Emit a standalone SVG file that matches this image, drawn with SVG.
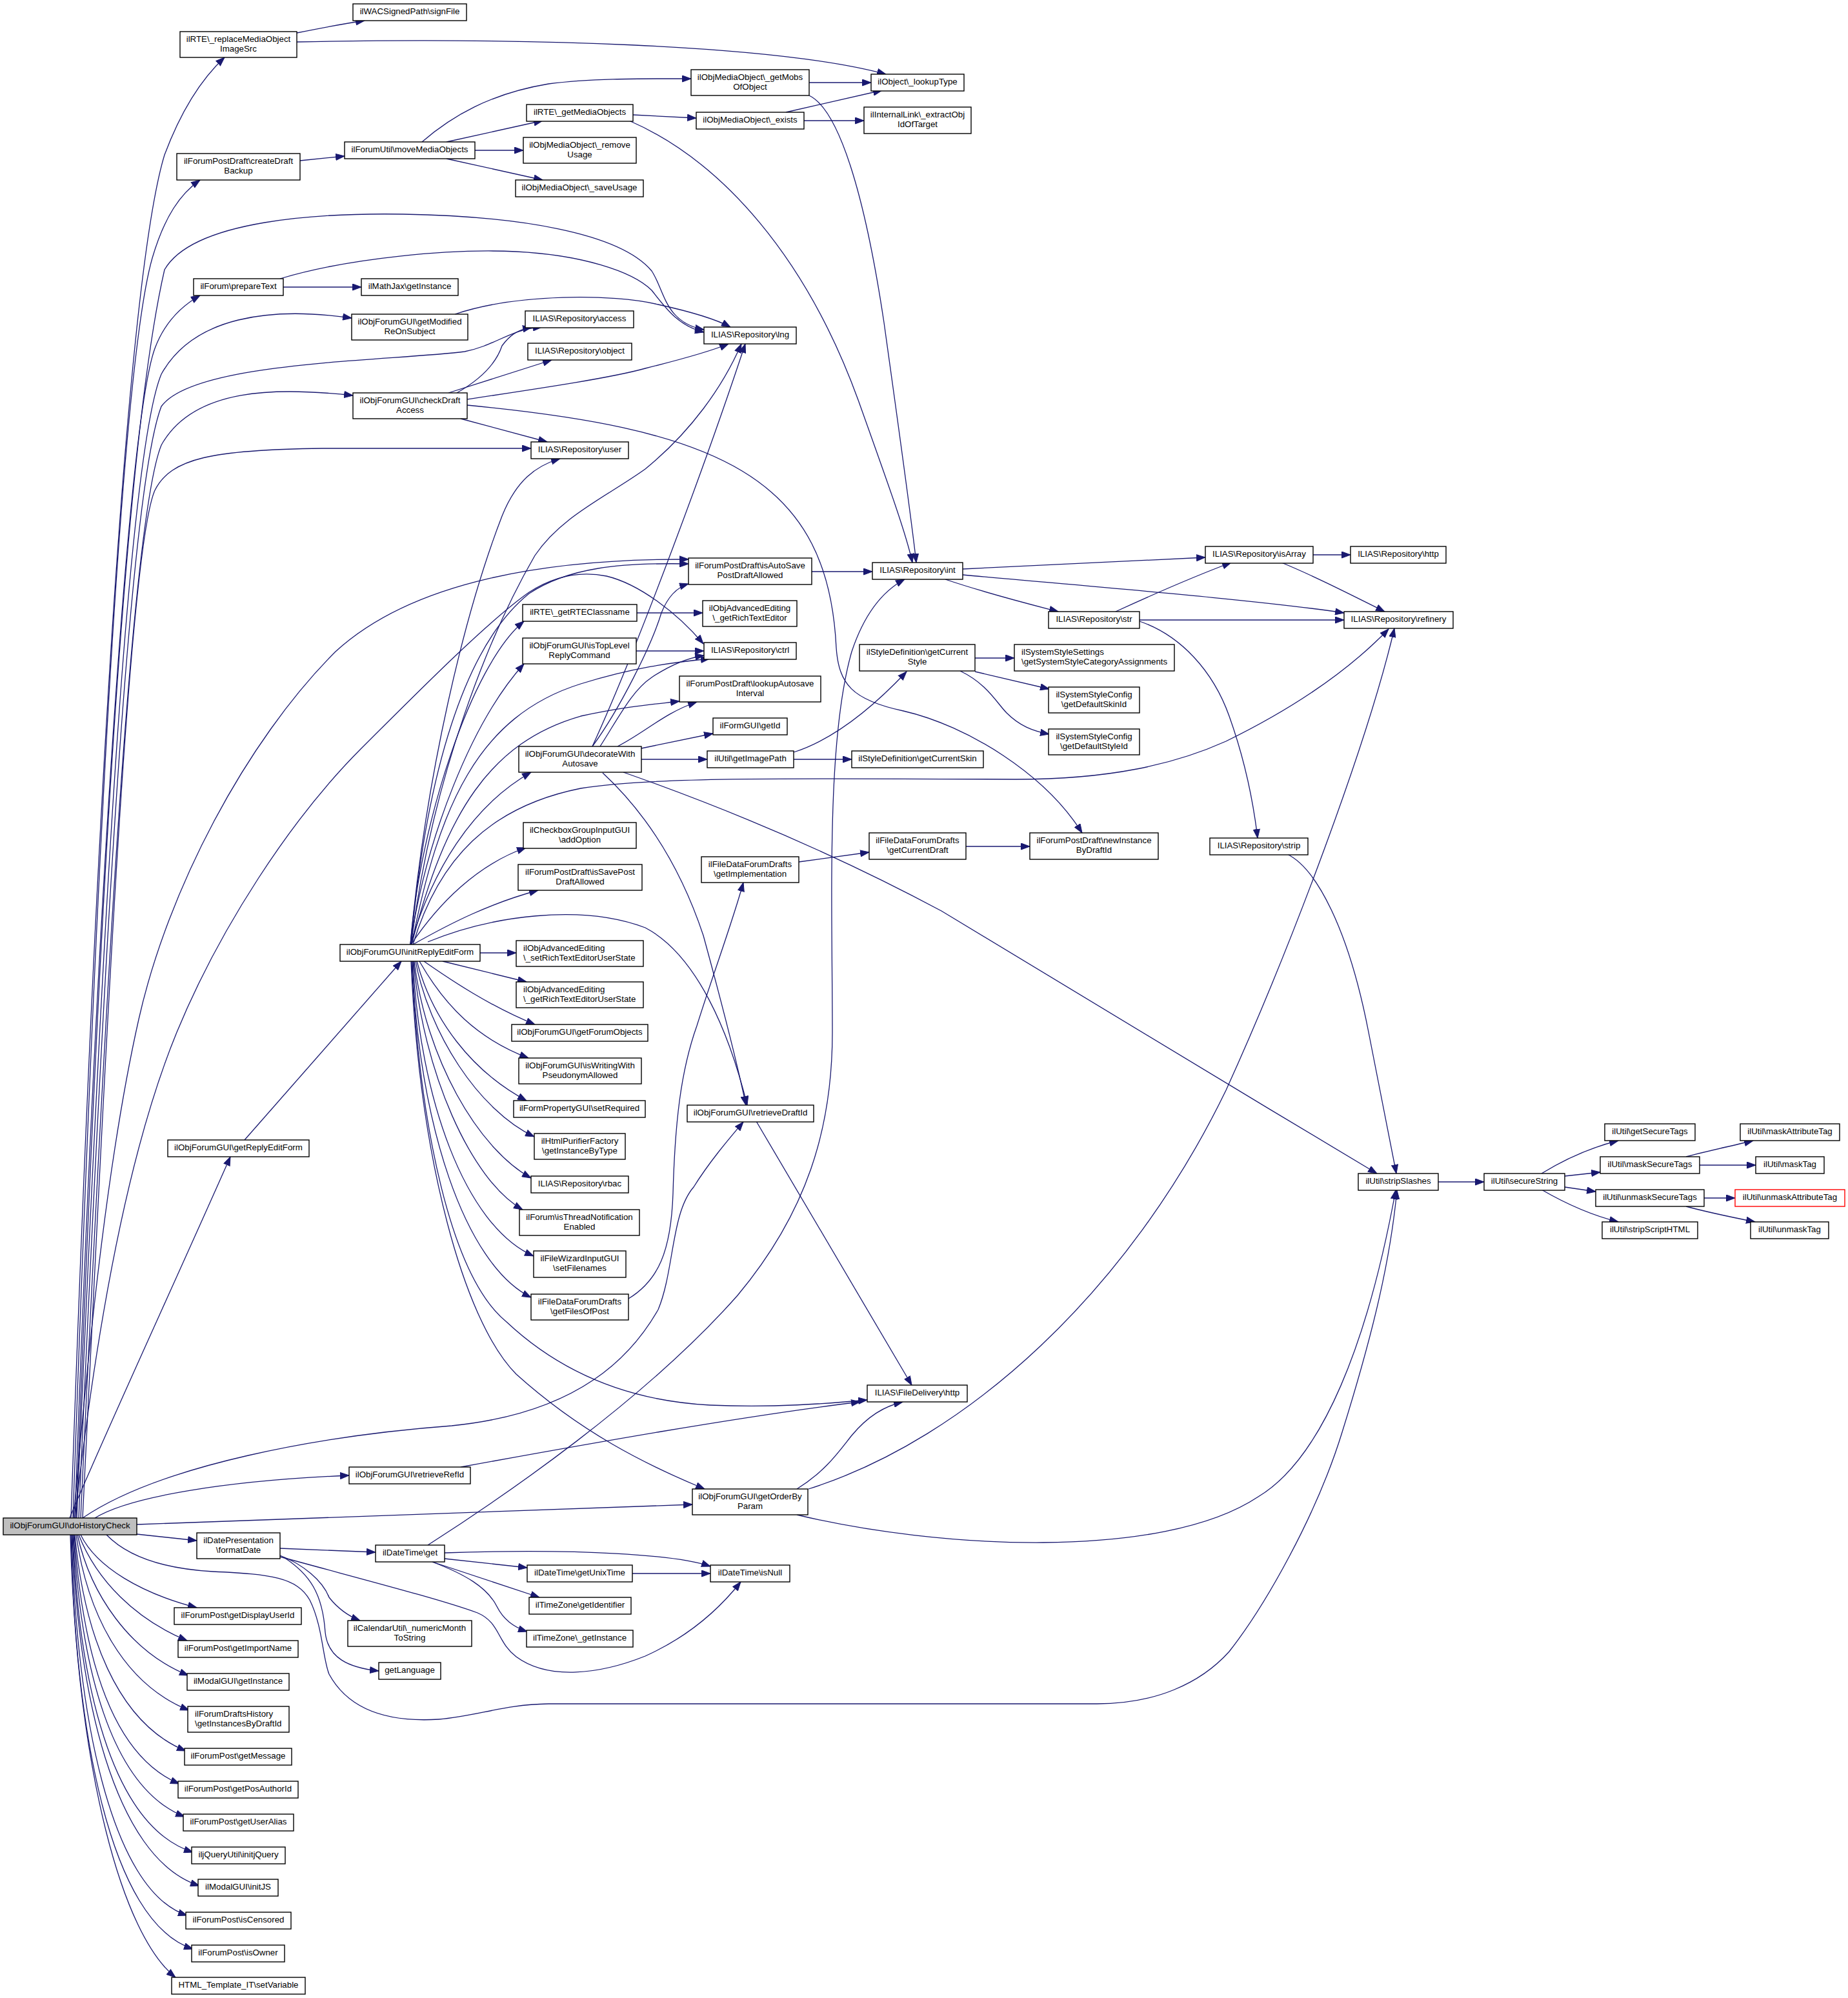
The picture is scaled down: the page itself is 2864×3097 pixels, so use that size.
<svg xmlns="http://www.w3.org/2000/svg" width="2864" height="3097" viewBox="0 0 2864 3097">
<defs>
<style>
.node rect{fill:#fff;stroke:#000;stroke-width:1.4}
.node text{font-family:"Liberation Sans",Arial,Helvetica,sans-serif;font-size:13.3px;fill:#000;text-anchor:middle}
.node text.l{text-anchor:start}
.cur rect{fill:#bfbfbf}
.red rect{stroke:#ff0000}
.edges path{fill:none;stroke:#191970;stroke-width:1.3;marker-end:url(#arr)}
</style>
<marker id="arr" markerUnits="userSpaceOnUse" markerWidth="15" markerHeight="11" refX="14" refY="5.5" orient="auto"><path d="M0.5,0.5 L14,5.5 L0.5,10.5 z" fill="#191970" stroke="#191970" stroke-width="1"/></marker>
</defs>
<rect width="2864" height="3097" fill="#fff"/>
<g id="edges" class="edges">
<path d="M460,51 C500,43 530,37 565,32"/>
<path d="M460,65 C800,58 1200,68 1373,115"/>
<path d="M465,249 L534,242"/>
<path d="M654,220 C700,180 760,145 850,130 C920,121 1000,122 1071,122"/>
<path d="M692,220 L841,187"/>
<path d="M736,233 L811,233"/>
<path d="M692,246 L841,279"/>
<path d="M981,178 L1079,183"/>
<path d="M975,187 C1120,250 1250,400 1330,620 C1380,760 1405,830 1414,872"/>
<path d="M1254,128 L1350,128"/>
<path d="M1254,148 C1300,170 1340,300 1370,500 C1395,680 1412,800 1420,872"/>
<path d="M1218,174 L1367,140"/>
<path d="M1246,187 L1339,187"/>
<path d="M439,445 L560,445"/>
<path d="M434,432 C540,400 700,385 800,390 C900,395 980,420 1010,450 C1030,475 1050,505 1091,515"/>
<path d="M705,487 C800,455 950,455 1020,472 C1070,483 1110,495 1132,507"/>
<path d="M110,2353 C150,1200 200,420 255,240 C285,160 320,115 348,89"/>
<path d="M113,2353 C150,1300 190,560 236,400 C255,335 280,300 310,279"/>
<path d="M116,2353 C150,1400 200,650 240,540 C255,500 280,475 310,458"/>
<path d="M119,2353 C160,1400 200,700 250,580 C300,490 420,475 545,493"/>
<path d="M122,2353 C160,1500 200,760 250,630 C300,560 600,560 720,545 C770,535 790,510 840,507"/>
<path d="M125,2353 C165,1500 205,800 250,690 C300,600 430,600 547,613"/>
<path d="M128,2353 C165,1600 200,850 240,760 C265,710 330,697 500,695 L823,695"/>
<path d="M118,2353 C150,1500 190,700 255,418 C300,340 500,330 625,332 C800,335 960,360 1010,420 C1030,450 1030,500 1091,511"/>
<path d="M114,2353 C140,2050 170,1780 215,1580 C260,1380 380,1150 520,1010 C640,900 850,866 1067,867"/>
<path d="M116,2353 C150,2050 200,1780 274,1600 C340,1440 450,1270 560,1160 C660,1060 760,960 820,918 C860,892 900,885 940,893 C990,905 1050,950 1090,998"/>
<path d="M108,2353 C150,2250 270,1990 357,1793"/>
<path d="M147,2353 C200,2320 350,2295 541,2287"/>
<path d="M212,2363 L1073,2332"/>
<path d="M128,2353 C250,2270 500,2225 700,2210 C900,2190 980,2100 1020,2030 C1045,1970 1040,1880 1075,1840 C1100,1800 1130,1765 1152,1739"/>
<path d="M212,2378 L305,2388"/>
<path d="M165,2379 C200,2415 260,2432 330,2436 C420,2440 460,2445 480,2480 C500,2520 500,2570 510,2595 C540,2650 600,2670 680,2665 C740,2660 780,2642 850,2641 L1700,2641 C1790,2641 1860,2610 1905,2560 C1960,2490 2040,2350 2080,2220 C2130,2060 2155,1950 2165,1845"/>
<path d="M125,2379 C150,2430 220,2470 305,2492"/>
<path d="M122,2379 C150,2450 210,2510 290,2543"/>
<path d="M120,2379 C140,2470 200,2560 292,2597"/>
<path d="M118,2379 C135,2500 190,2610 293,2651"/>
<path d="M116,2379 C130,2530 180,2670 288,2714"/>
<path d="M115,2379 C128,2560 170,2720 278,2765"/>
<path d="M114,2379 C125,2580 170,2770 286,2816"/>
<path d="M113,2379 C122,2600 170,2830 299,2871"/>
<path d="M112,2379 C120,2620 175,2880 309,2923"/>
<path d="M111,2379 C118,2650 170,2930 290,2969"/>
<path d="M110,2379 C116,2680 170,2980 299,3021"/>
<path d="M109,2379 C120,2750 190,3000 272,3065"/>
<path d="M434,2400 L582,2406"/>
<path d="M434,2411 C470,2425 500,2450 510,2476 C525,2495 540,2505 558,2512"/>
<path d="M440,2414 C480,2440 500,2470 504,2530 C508,2570 540,2585 587,2590"/>
<path d="M434,2413 C550,2445 680,2478 740,2500 C775,2515 770,2545 800,2568 C850,2605 930,2595 1000,2567 C1060,2540 1110,2500 1148,2452"/>
<path d="M689,2416 L817,2430"/>
<path d="M670,2421 L836,2476"/>
<path d="M670,2421 C720,2440 755,2460 770,2490 C780,2510 795,2522 817,2529"/>
<path d="M689,2407 C900,2400 1050,2410 1101,2428"/>
<path d="M663,2395 C780,2320 1000,2170 1143,2008 C1250,1880 1290,1750 1290,1600 C1290,1400 1280,1150 1320,1010 C1340,950 1370,915 1402,898"/>
<path d="M980,2439 L1101,2439"/>
<path d="M379,1767 L622,1490"/>
<path d="M636,1464 C650,1280 730,1030 812,963"/>
<path d="M636,1464 C660,1300 730,1120 812,1029"/>
<path d="M636,1464 C670,1350 730,1250 823,1197"/>
<path d="M637,1464 C680,1400 740,1340 815,1314"/>
<path d="M640,1464 C700,1430 760,1400 834,1380"/>
<path d="M744,1477 L800,1477"/>
<path d="M686,1490 L816,1522"/>
<path d="M657,1490 C700,1520 760,1560 829,1588"/>
<path d="M650,1490 C690,1560 740,1610 819,1640"/>
<path d="M646,1490 C670,1580 730,1660 816,1706"/>
<path d="M644,1490 C665,1600 740,1720 828,1762"/>
<path d="M642,1490 C660,1640 740,1780 823,1826"/>
<path d="M641,1490 C655,1660 730,1830 810,1875"/>
<path d="M640,1490 C650,1700 720,1900 827,1947"/>
<path d="M639,1490 C648,1740 720,1960 823,2011"/>
<path d="M638,1490 C650,1750 700,1980 785,2049 C850,2110 950,2170 1100,2178 C1200,2182 1280,2176 1344,2170"/>
<path d="M637,1490 C650,1800 720,2050 800,2130 C900,2220 1000,2270 1092,2308"/>
<path d="M636,1464 C660,1200 720,950 778,800 C800,745 830,722 868,711"/>
<path d="M637,1464 C670,1200 760,980 829,861 C870,800 940,770 1000,727 C1070,670 1120,600 1149,533"/>
<path d="M637,1464 C660,1200 720,1000 820,920 C880,880 960,872 1067,874"/>
<path d="M638,1464 C680,1250 740,1110 900,1060 C980,1035 1040,1027 1100,1021"/>
<path d="M638,1464 C690,1260 760,1150 900,1110 C970,1095 1010,1092 1053,1087"/>
<path d="M640,1464 C680,1330 760,1250 900,1222 C1000,1205 1200,1206 1574,1208 C1720,1208 1820,1185 1900,1149 C1990,1105 2080,1050 2152,975"/>
<path d="M663,1460 C760,1420 900,1400 1000,1438 C1080,1480 1130,1600 1158,1713"/>
<path d="M918,1157 C990,1000 1100,700 1155,533"/>
<path d="M918,1157 C960,1100 1010,1000 1025,950 C1035,925 1050,910 1067,905"/>
<path d="M930,1157 C960,1110 980,1070 1010,1050 C1040,1030 1065,1020 1091,1016"/>
<path d="M957,1157 C1000,1135 1030,1105 1080,1088"/>
<path d="M994,1160 L1105,1137"/>
<path d="M994,1177 L1096,1177"/>
<path d="M966,1197 C1060,1230 1250,1300 1459,1412 C1650,1525 1900,1680 2134,1819"/>
<path d="M934,1198 C990,1250 1050,1330 1090,1450 C1120,1560 1145,1660 1156,1713"/>
<path d="M986,1009 L1091,1009"/>
<path d="M987,950 L1089,950"/>
<path d="M1258,886 L1352,886"/>
<path d="M1492,882 L1868,864"/>
<path d="M1492,891 C1700,910 1950,930 2083,950"/>
<path d="M1465,898 C1530,920 1590,935 1640,948"/>
<path d="M1729,948 C1790,920 1860,890 1908,872"/>
<path d="M1766,961 L2083,961"/>
<path d="M1766,963 C1830,985 1880,1040 1905,1110 C1930,1180 1942,1240 1949,1299"/>
<path d="M2035,860 L2093,860"/>
<path d="M1986,872 C2030,890 2080,915 2146,948"/>
<path d="M1995,1324 C2040,1346 2090,1440 2121,1600 C2140,1700 2155,1770 2164,1819"/>
<path d="M2229,1832 L2300,1832"/>
<path d="M2389,1819 C2420,1800 2460,1780 2508,1768"/>
<path d="M2425,1823 L2480,1817"/>
<path d="M2425,1840 L2473,1847"/>
<path d="M2389,1844 C2420,1862 2460,1882 2508,1894"/>
<path d="M2613,1793 C2650,1783 2690,1775 2717,1768"/>
<path d="M2634,1806 L2721,1806"/>
<path d="M2641,1857 L2689,1857"/>
<path d="M2613,1870 C2650,1880 2690,1888 2720,1894"/>
<path d="M1511,1020 L1572,1020"/>
<path d="M1511,1041 L1626,1068"/>
<path d="M1488,1040 C1530,1060 1545,1090 1560,1105 C1580,1125 1600,1133 1626,1138"/>
<path d="M1230,1166 C1280,1150 1340,1110 1405,1041"/>
<path d="M1230,1177 L1320,1177"/>
<path d="M1238,1336 L1347,1321"/>
<path d="M1497,1312 L1596,1312"/>
<path d="M708,609 C750,585 770,560 778,536 C790,520 800,512 824,507"/>
<path d="M695,609 L855,558"/>
<path d="M724,619 C850,600 950,585 1000,571 C1060,556 1100,545 1129,533"/>
<path d="M714,649 L848,685"/>
<path d="M724,628 C900,645 1050,670 1150,730 C1250,790 1290,880 1296,1004 C1300,1060 1320,1085 1400,1102 C1500,1125 1620,1200 1677,1291"/>
<path d="M1172,1738 L1413,2147"/>
<path d="M1235,2308 C1280,2280 1300,2250 1320,2225 C1345,2195 1370,2180 1399,2173"/>
<path d="M1253,2308 C1500,2230 1750,2000 1900,1690 C2000,1470 2120,1150 2161,974"/>
<path d="M1235,2348 C1450,2400 1800,2420 1950,2320 C2050,2260 2120,2080 2163,1845"/>
<path d="M714,2274 C900,2240 1150,2195 1333,2173"/>
<path d="M974,2013 C1020,1985 1040,1940 1043,1850 C1046,1740 1055,1660 1080,1590 C1105,1510 1135,1430 1152,1368"/>
</g>
<g id="n_signFile" class="node"><rect x="547" y="6" width="176" height="26"/><text x="635" y="22">ilWACSignedPath\signFile</text></g>
<g id="n_replaceMO" class="node"><rect x="279" y="49" width="181" height="40"/><text x="369.5" y="64.5">ilRTE\_replaceMediaObject</text><text x="369.5" y="79.5">ImageSrc</text></g>
<g id="n_lookupType" class="node"><rect x="1350" y="115" width="144" height="26"/><text x="1422" y="131">ilObject\_lookupType</text></g>
<g id="n_getMobs" class="node"><rect x="1071" y="108" width="183" height="40"/><text x="1162.5" y="123.5">ilObjMediaObject\_getMobs</text><text x="1162.5" y="138.5">OfObject</text></g>
<g id="n_getMediaObjects" class="node"><rect x="816" y="162" width="165" height="26"/><text x="898.5" y="178">ilRTE\_getMediaObjects</text></g>
<g id="n_exists" class="node"><rect x="1079" y="174" width="167" height="26"/><text x="1162.5" y="190">ilObjMediaObject\_exists</text></g>
<g id="n_extractObj" class="node"><rect x="1339" y="166" width="166" height="41"/><text x="1422" y="182">ilInternalLink\_extractObj</text><text x="1422" y="197">IdOfTarget</text></g>
<g id="n_createDraft" class="node"><rect x="274" y="238" width="191" height="41"/><text x="369.5" y="254">ilForumPostDraft\createDraft</text><text x="369.5" y="269">Backup</text></g>
<g id="n_moveMO" class="node"><rect x="534" y="220" width="202" height="26"/><text x="635" y="236">ilForumUtil\moveMediaObjects</text></g>
<g id="n_removeUsage" class="node"><rect x="811" y="213" width="175" height="40"/><text x="898.5" y="228.5">ilObjMediaObject\_remove</text><text x="898.5" y="243.5">Usage</text></g>
<g id="n_saveUsage" class="node"><rect x="799" y="279" width="198" height="26"/><text x="898" y="295">ilObjMediaObject\_saveUsage</text></g>
<g id="n_prepareText" class="node"><rect x="300" y="432" width="139" height="26"/><text x="369.5" y="448">ilForum\prepareText</text></g>
<g id="n_mathJax" class="node"><rect x="560" y="432" width="150" height="26"/><text x="635" y="448">ilMathJax\getInstance</text></g>
<g id="n_getModified" class="node"><rect x="545" y="487" width="180" height="40"/><text x="635" y="502.5">ilObjForumGUI\getModified</text><text x="635" y="517.5">ReOnSubject</text></g>
<g id="n_access" class="node"><rect x="814" y="482" width="168" height="26"/><text x="898" y="498">ILIAS\Repository\access</text></g>
<g id="n_lng" class="node"><rect x="1091" y="507" width="143" height="26"/><text x="1162.5" y="523">ILIAS\Repository\lng</text></g>
<g id="n_object" class="node"><rect x="818" y="532" width="161" height="26"/><text x="898.5" y="548">ILIAS\Repository\object</text></g>
<g id="n_checkDraft" class="node"><rect x="547" y="609" width="177" height="40"/><text x="635.5" y="624.5">ilObjForumGUI\checkDraft</text><text x="635.5" y="639.5">Access</text></g>
<g id="n_user" class="node"><rect x="823" y="685" width="151" height="26"/><text x="898.5" y="701">ILIAS\Repository\user</text></g>
<g id="n_isAutoSave" class="node"><rect x="1067" y="865" width="191" height="41"/><text x="1162.5" y="881">ilForumPostDraft\isAutoSave</text><text x="1162.5" y="896">PostDraftAllowed</text></g>
<g id="n_int" class="node"><rect x="1352" y="872" width="140" height="26"/><text x="1422" y="888">ILIAS\Repository\int</text></g>
<g id="n_isArray" class="node"><rect x="1868" y="847" width="167" height="26"/><text x="1951.5" y="863">ILIAS\Repository\isArray</text></g>
<g id="n_http" class="node"><rect x="2093" y="847" width="148" height="26"/><text x="2167" y="863">ILIAS\Repository\http</text></g>
<g id="n_str" class="node"><rect x="1625" y="948" width="141" height="26"/><text x="1695.5" y="964">ILIAS\Repository\str</text></g>
<g id="n_refinery" class="node"><rect x="2083" y="948" width="169" height="26"/><text x="2167.5" y="964">ILIAS\Repository\refinery</text></g>
<g id="n_getRTE" class="node"><rect x="810" y="937" width="177" height="26"/><text x="898.5" y="953">ilRTE\_getRTEClassname</text></g>
<g id="n_getRTEditor" class="node"><rect x="1089" y="931" width="146" height="40"/><text x="1162" y="946.5">ilObjAdvancedEditing</text><text x="1162" y="961.5">\_getRichTextEditor</text></g>
<g id="n_isTopLevel" class="node"><rect x="810" y="989" width="176" height="40"/><text x="898" y="1004.5">ilObjForumGUI\isTopLevel</text><text x="898" y="1019.5">ReplyCommand</text></g>
<g id="n_ctrl" class="node"><rect x="1091" y="996" width="143" height="26"/><text x="1162.5" y="1012">ILIAS\Repository\ctrl</text></g>
<g id="n_getCurStyle" class="node"><rect x="1332" y="999" width="179" height="41"/><text x="1421.5" y="1015">ilStyleDefinition\getCurrent</text><text x="1421.5" y="1030">Style</text></g>
<g id="n_sysStyleCat" class="node"><rect x="1572" y="999" width="248" height="41"/><text class="l" x="1583" y="1015">ilSystemStyleSettings</text><text class="l" x="1583" y="1030">\getSystemStyleCategoryAssignments</text></g>
<g id="n_lookupAutosave" class="node"><rect x="1053" y="1048" width="219" height="40"/><text x="1162.5" y="1063.5">ilForumPostDraft\lookupAutosave</text><text x="1162.5" y="1078.5">Interval</text></g>
<g id="n_defSkin" class="node"><rect x="1625" y="1065" width="141" height="40"/><text x="1695.5" y="1080.5">ilSystemStyleConfig</text><text x="1695.5" y="1095.5">\getDefaultSkinId</text></g>
<g id="n_defStyle" class="node"><rect x="1625" y="1130" width="141" height="40"/><text x="1695.5" y="1145.5">ilSystemStyleConfig</text><text x="1695.5" y="1160.5">\getDefaultStyleId</text></g>
<g id="n_getId" class="node"><rect x="1105" y="1113" width="115" height="26"/><text x="1162.5" y="1129">ilFormGUI\getId</text></g>
<g id="n_decorate" class="node"><rect x="804" y="1157" width="190" height="40"/><text x="899" y="1172.5">ilObjForumGUI\decorateWith</text><text x="899" y="1187.5">Autosave</text></g>
<g id="n_getImagePath" class="node"><rect x="1096" y="1164" width="134" height="26"/><text x="1163" y="1180">ilUtil\getImagePath</text></g>
<g id="n_getCurSkin" class="node"><rect x="1320" y="1164" width="204" height="26"/><text x="1422" y="1180">ilStyleDefinition\getCurrentSkin</text></g>
<g id="n_addOption" class="node"><rect x="811" y="1275" width="175" height="40"/><text x="898.5" y="1290.5">ilCheckboxGroupInputGUI</text><text x="898.5" y="1305.5">\addOption</text></g>
<g id="n_isSavePost" class="node"><rect x="803" y="1340" width="192" height="40"/><text x="899" y="1355.5">ilForumPostDraft\isSavePost</text><text x="899" y="1370.5">DraftAllowed</text></g>
<g id="n_getCurDraft" class="node"><rect x="1347" y="1291" width="150" height="41"/><text x="1422" y="1307">ilFileDataForumDrafts</text><text x="1422" y="1322">\getCurrentDraft</text></g>
<g id="n_newInstance" class="node"><rect x="1596" y="1291" width="199" height="41"/><text x="1695.5" y="1307">ilForumPostDraft\newInstance</text><text x="1695.5" y="1322">ByDraftId</text></g>
<g id="n_getImpl" class="node"><rect x="1087" y="1328" width="151" height="40"/><text x="1162.5" y="1343.5">ilFileDataForumDrafts</text><text x="1162.5" y="1358.5">\getImplementation</text></g>
<g id="n_strip" class="node"><rect x="1875" y="1299" width="152" height="26"/><text x="1951" y="1315">ILIAS\Repository\strip</text></g>
<g id="n_initReply" class="node"><rect x="527" y="1464" width="217" height="26"/><text x="635.5" y="1480">ilObjForumGUI\initReplyEditForm</text></g>
<g id="n_setRTEUS" class="node"><rect x="800" y="1458" width="197" height="40"/><text class="l" x="811" y="1473.5">ilObjAdvancedEditing</text><text class="l" x="811" y="1488.5">\_setRichTextEditorUserState</text></g>
<g id="n_getRTEUS" class="node"><rect x="800" y="1522" width="197" height="40"/><text class="l" x="811" y="1537.5">ilObjAdvancedEditing</text><text class="l" x="811" y="1552.5">\_getRichTextEditorUserState</text></g>
<g id="n_getForumObjects" class="node"><rect x="793" y="1588" width="211" height="26"/><text x="898.5" y="1604">ilObjForumGUI\getForumObjects</text></g>
<g id="n_isWriting" class="node"><rect x="804" y="1640" width="190" height="40"/><text x="899" y="1655.5">ilObjForumGUI\isWritingWith</text><text x="899" y="1670.5">PseudonymAllowed</text></g>
<g id="n_setRequired" class="node"><rect x="796" y="1706" width="204" height="26"/><text x="898" y="1722">ilFormPropertyGUI\setRequired</text></g>
<g id="n_getInstByType" class="node"><rect x="828" y="1757" width="141" height="40"/><text x="898.5" y="1772.5">ilHtmlPurifierFactory</text><text x="898.5" y="1787.5">\getInstanceByType</text></g>
<g id="n_rbac" class="node"><rect x="823" y="1823" width="151" height="26"/><text x="898.5" y="1839">ILIAS\Repository\rbac</text></g>
<g id="n_isThreadNotif" class="node"><rect x="805" y="1875" width="186" height="40"/><text x="898" y="1890.5">ilForum\isThreadNotification</text><text x="898" y="1905.5">Enabled</text></g>
<g id="n_setFilenames" class="node"><rect x="827" y="1939" width="143" height="41"/><text x="898.5" y="1955">ilFileWizardInputGUI</text><text x="898.5" y="1970">\setFilenames</text></g>
<g id="n_getFilesOfPost" class="node"><rect x="823" y="2006" width="151" height="40"/><text x="898.5" y="2021.5">ilFileDataForumDrafts</text><text x="898.5" y="2036.5">\getFilesOfPost</text></g>
<g id="n_getReplyEditForm" class="node"><rect x="260" y="1767" width="219" height="26"/><text x="369.5" y="1783">ilObjForumGUI\getReplyEditForm</text></g>
<g id="n_retrieveDraftId" class="node"><rect x="1065" y="1713" width="196" height="26"/><text x="1163" y="1729">ilObjForumGUI\retrieveDraftId</text></g>
<g id="n_stripSlashes" class="node"><rect x="2105" y="1819" width="124" height="26"/><text x="2167" y="1835">ilUtil\stripSlashes</text></g>
<g id="n_secureString" class="node"><rect x="2300" y="1819" width="125" height="26"/><text x="2362.5" y="1835">ilUtil\secureString</text></g>
<g id="n_getSecureTags" class="node"><rect x="2487" y="1742" width="140" height="26"/><text x="2557" y="1758">ilUtil\getSecureTags</text></g>
<g id="n_maskSecureTags" class="node"><rect x="2480" y="1793" width="154" height="26"/><text x="2557" y="1809">ilUtil\maskSecureTags</text></g>
<g id="n_unmaskSecureTags" class="node"><rect x="2473" y="1844" width="168" height="26"/><text x="2557" y="1860">ilUtil\unmaskSecureTags</text></g>
<g id="n_stripScriptHTML" class="node"><rect x="2483" y="1894" width="148" height="26"/><text x="2557" y="1910">ilUtil\stripScriptHTML</text></g>
<g id="n_maskAttributeTag" class="node"><rect x="2697" y="1742" width="154" height="26"/><text x="2774" y="1758">ilUtil\maskAttributeTag</text></g>
<g id="n_maskTag" class="node"><rect x="2721" y="1793" width="106" height="26"/><text x="2774" y="1809">ilUtil\maskTag</text></g>
<g id="n_unmaskAttributeTag" class="node red"><rect x="2689" y="1844" width="170" height="26"/><text x="2774" y="1860">ilUtil\unmaskAttributeTag</text></g>
<g id="n_unmaskTag" class="node"><rect x="2713" y="1894" width="121" height="26"/><text x="2773.5" y="1910">ilUtil\unmaskTag</text></g>
<g id="n_fdHttp" class="node"><rect x="1344" y="2147" width="155" height="26"/><text x="1421.5" y="2163">ILIAS\FileDelivery\http</text></g>
<g id="n_retrieveRefId" class="node"><rect x="541" y="2274" width="188" height="26"/><text x="635" y="2290">ilObjForumGUI\retrieveRefId</text></g>
<g id="n_getOrderBy" class="node"><rect x="1073" y="2308" width="179" height="40"/><text x="1162.5" y="2323.5">ilObjForumGUI\getOrderBy</text><text x="1162.5" y="2338.5">Param</text></g>
<g id="n_dhc" class="node cur"><rect x="5" y="2353" width="207" height="26"/><text x="108.5" y="2369">ilObjForumGUI\doHistoryCheck</text></g>
<g id="n_formatDate" class="node"><rect x="305" y="2376" width="129" height="40"/><text x="369.5" y="2391.5">ilDatePresentation</text><text x="369.5" y="2406.5">\formatDate</text></g>
<g id="n_dtGet" class="node"><rect x="582" y="2395" width="107" height="26"/><text x="635.5" y="2411">ilDateTime\get</text></g>
<g id="n_isNull" class="node"><rect x="1101" y="2426" width="123" height="26"/><text x="1162.5" y="2442">ilDateTime\isNull</text></g>
<g id="n_getUnixTime" class="node"><rect x="817" y="2426" width="163" height="26"/><text x="898.5" y="2442">ilDateTime\getUnixTime</text></g>
<g id="n_getIdentifier" class="node"><rect x="820" y="2476" width="158" height="26"/><text x="899" y="2492">ilTimeZone\getIdentifier</text></g>
<g id="n_tzGetInstance" class="node"><rect x="816" y="2527" width="165" height="26"/><text x="898.5" y="2543">ilTimeZone\_getInstance</text></g>
<g id="n_numericMonth" class="node"><rect x="539" y="2512" width="192" height="40"/><text x="635" y="2527.5">ilCalendarUtil\_numericMonth</text><text x="635" y="2542.5">ToString</text></g>
<g id="n_getLanguage" class="node"><rect x="587" y="2577" width="96" height="26"/><text x="635" y="2593">getLanguage</text></g>
<g id="n_getDisplayUserId" class="node"><rect x="270" y="2492" width="197" height="26"/><text x="368.5" y="2508">ilForumPost\getDisplayUserId</text></g>
<g id="n_getImportName" class="node"><rect x="276" y="2543" width="186" height="26"/><text x="369" y="2559">ilForumPost\getImportName</text></g>
<g id="n_modalGetInstance" class="node"><rect x="290" y="2594" width="158" height="26"/><text x="369" y="2610">ilModalGUI\getInstance</text></g>
<g id="n_getInstancesByDraftId" class="node"><rect x="291" y="2645" width="157" height="40"/><text class="l" x="302" y="2660.5">ilForumDraftsHistory</text><text class="l" x="302" y="2675.5">\getInstancesByDraftId</text></g>
<g id="n_getMessage" class="node"><rect x="286" y="2710" width="166" height="26"/><text x="369" y="2726">ilForumPost\getMessage</text></g>
<g id="n_getPosAuthorId" class="node"><rect x="276" y="2761" width="186" height="26"/><text x="369" y="2777">ilForumPost\getPosAuthorId</text></g>
<g id="n_getUserAlias" class="node"><rect x="284" y="2812" width="171" height="26"/><text x="369.5" y="2828">ilForumPost\getUserAlias</text></g>
<g id="n_initjQuery" class="node"><rect x="297" y="2863" width="145" height="26"/><text x="369.5" y="2879">iljQueryUtil\initjQuery</text></g>
<g id="n_initJS" class="node"><rect x="307" y="2913" width="124" height="26"/><text x="369" y="2929">ilModalGUI\initJS</text></g>
<g id="n_isCensored" class="node"><rect x="288" y="2964" width="163" height="26"/><text x="369.5" y="2980">ilForumPost\isCensored</text></g>
<g id="n_isOwner" class="node"><rect x="297" y="3015" width="144" height="26"/><text x="369" y="3031">ilForumPost\isOwner</text></g>
<g id="n_setVariable" class="node"><rect x="266" y="3065" width="207" height="26"/><text x="369.5" y="3081">HTML_Template_IT\setVariable</text></g>
</svg>
